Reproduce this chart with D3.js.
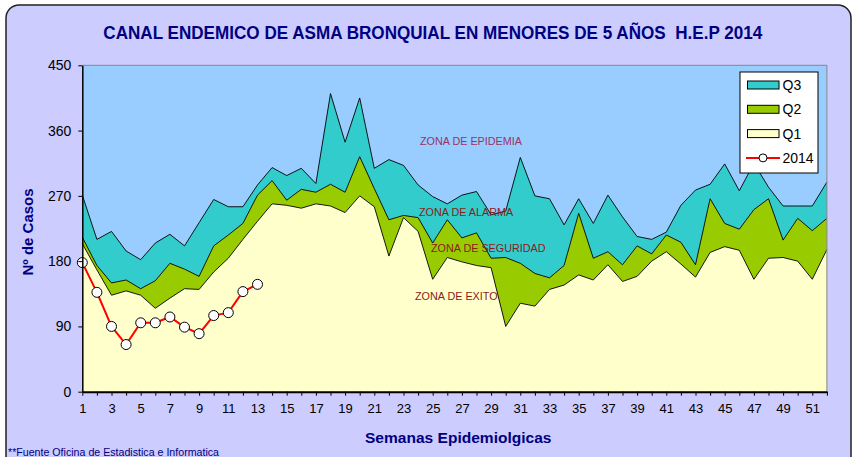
<!DOCTYPE html>
<html>
<head>
<meta charset="utf-8">
<title>Canal endemico</title>
<style>
  body { margin: 0; background: #fff; }
  svg text { font-family: "Liberation Sans", Arial, sans-serif; }
</style>
</head>
<body>
<script src="https://cdnjs.cloudflare.com/ajax/libs/d3/7.8.5/d3.min.js"></script>
<script>
// semanas epidemiologicas 1..52
var semanas = d3.range(1, 53);

// limites de los cuartiles (casos)
var q1 = [204,168,133,139,133,115,129,142,141,165,
          184,210,235,259,257,253,259,256,247,270,
          255,187,240,221,155,185,179,174,171,90,
          122,118,141,147,161,154,175,152,159,180,
          193,176,158,192,200,195,155,184,185,180,
          155,196];
var q2 = [213,174,150,154,142,153,177,169,159,201,
          216,232,271,291,264,279,275,286,275,324,
          280,237,243,240,205,237,212,219,184,185,
          177,163,157,174,246,184,193,175,201,190,
          216,206,175,266,232,224,251,266,209,239,
          222,239];
var q3 = [271,210,221,194,182,205,217,201,233,265,
          255,255,285,309,298,308,287,411,344,405,
          308,320,312,285,269,259,271,276,244,249,
          323,270,266,230,266,232,271,241,214,210,
          220,257,278,286,314,277,315,282,256,256,
          256,289];

// casos 2014
var casos2014 = [178,137,90,65,95,95,103,89,80,105,109,138,148];

var yTicks = [0, 90, 180, 270, 360, 450];

var W = 853, H = 457;
var navy = "#000080";

var svg = d3.select("body").append("svg")
    .attr("width", W)
    .attr("height", H);

// marco exterior
svg.append("rect")
    .attr("x", 6).attr("y", 5)
    .attr("width", 845).attr("height", 470)
    .attr("rx", 13).attr("ry", 13)
    .attr("fill", "#CCCCFF")
    .attr("stroke", "#222")
    .attr("stroke-width", 1.5);

var x = d3.scalePoint()
    .domain(semanas)
    .range([82.3, 826.9]);

var y = d3.scaleLinear()
    .domain([0, 450])
    .range([391.7, 65.3]);

// fondo del area de trazado (zona de epidemia)
svg.append("rect")
    .attr("x", x(1)).attr("y", y(450))
    .attr("width", x(52) - x(1))
    .attr("height", y(0) - y(450))
    .attr("fill", "#99CCFF");

function band(lo, hi) {
    return d3.area()
        .x(function(d, i) { return x(semanas[i]); })
        .y0(function(d, i) { return lo ? y(lo[i]) : y(0); })
        .y1(function(d, i) { return y(hi[i]); });
}
var line = d3.line()
    .x(function(d, i) { return x(semanas[i]); })
    .y(function(d) { return y(d); });

svg.append("path").datum(q3).attr("d", band(q2, q3)).attr("fill", "#33CCCC");
svg.append("path").datum(q2).attr("d", band(q1, q2)).attr("fill", "#99CC00");
svg.append("path").datum(q1).attr("d", band(null, q1)).attr("fill", "#FFFFCC");

[q3, q2, q1].forEach(function(s) {
    svg.append("path").datum(s)
        .attr("d", line)
        .attr("fill", "none")
        .attr("stroke", "#000")
        .attr("stroke-width", 0.9)
        .attr("stroke-linejoin", "round");
});

// borde gris superior y derecho
svg.append("path")
    .attr("d", "M" + x(1) + "," + y(450) + "H" + x(52) + "V" + y(0))
    .attr("fill", "none")
    .attr("stroke", "#888")
    .attr("stroke-width", 1);

// etiquetas de zonas
var zonas = [
    { t: "ZONA DE EPIDEMIA", x: 420, y: 144.5, c: "#993366" },
    { t: "ZONA DE ALARMA", x: 419, y: 216, c: "#8B1A1A" },
    { t: "ZONA DE SEGURIDAD", x: 431, y: 252, c: "#8B1A1A" },
    { t: "ZONA DE EXITO", x: 415, y: 300, c: "#8B1A1A" }
];
svg.selectAll("text.zona").data(zonas).enter().append("text")
    .attr("class", "zona")
    .attr("x", function(d) { return d.x; })
    .attr("y", function(d) { return d.y; })
    .attr("font-size", "10.8px")
    .attr("fill", function(d) { return d.c; })
    .text(function(d) { return d.t; });

// serie 2014
svg.append("path").datum(casos2014)
    .attr("d", line)
    .attr("fill", "none")
    .attr("stroke", "#FF0000")
    .attr("stroke-width", 2);
svg.selectAll("circle.c2014").data(casos2014).enter().append("circle")
    .attr("class", "c2014")
    .attr("cx", function(d, i) { return x(semanas[i]); })
    .attr("cy", function(d) { return y(d); })
    .attr("r", 5)
    .attr("fill", "#fff")
    .attr("stroke", "#000")
    .attr("stroke-width", 1);

// ejes
var yAxis = svg.append("g")
    .attr("transform", "translate(" + x(1) + ",0)")
    .call(d3.axisLeft(y).tickValues(yTicks).tickSize(4).tickSizeOuter(0).tickPadding(7));
yAxis.selectAll("text").attr("font-size", "14px").attr("fill", "#000")
    .style("font-family", "'Liberation Sans', Arial, sans-serif");
yAxis.select(".domain").attr("stroke-width", 1.5);

var xAxis = svg.append("g")
    .attr("transform", "translate(0," + y(0) + ")")
    .call(d3.axisBottom(x).tickSize(4).tickSizeOuter(0).tickPadding(8.5)
        .tickFormat(function(d) { return d % 2 === 1 ? d : ""; }));
xAxis.selectAll("text").attr("font-size", "13px").attr("fill", "#000")
    .style("font-family", "'Liberation Sans', Arial, sans-serif");
xAxis.select(".domain").attr("stroke-width", 2);

// titulos
svg.append("text")
    .attr("x", 103.3).attr("y", 38.5)
    .attr("font-size", "17.5px")
    .attr("font-weight", "bold")
    .attr("fill", navy)
    .attr("textLength", 659)
    .attr("lengthAdjust", "spacingAndGlyphs")
    .style("white-space", "pre")
    .text("CANAL ENDEMICO DE ASMA BRONQUIAL EN MENORES DE 5 AÑOS  H.E.P 2014");

svg.append("text")
    .attr("transform", "translate(32.5,232) rotate(-90)")
    .attr("text-anchor", "middle")
    .attr("font-size", "15px")
    .attr("font-weight", "bold")
    .attr("fill", navy)
    .text("Nº de Casos");

svg.append("text")
    .attr("x", 365).attr("y", 442.7)
    .attr("font-size", "15.3px")
    .attr("font-weight", "bold")
    .attr("fill", navy)
    .attr("textLength", 186.5)
    .attr("lengthAdjust", "spacingAndGlyphs")
    .text("Semanas Epidemiolgicas");

svg.append("text")
    .attr("x", 8).attr("y", 455.5)
    .attr("font-size", "11.5px")
    .attr("fill", navy)
    .attr("textLength", 211)
    .attr("lengthAdjust", "spacingAndGlyphs")
    .text("**Fuente Oficina de Estadistica e Informatica");

// leyenda
var leyenda = [
    { n: "Q3", c: "#33CCCC" },
    { n: "Q2", c: "#99CC00" },
    { n: "Q1", c: "#FFFFCC" },
    { n: "2014", c: null }
];
var lg = svg.append("g").attr("transform", "translate(740,72)");
lg.append("rect")
    .attr("width", 78).attr("height", 101)
    .attr("fill", "#fff").attr("stroke", "#000").attr("stroke-width", 1);
leyenda.forEach(function(d, i) {
    var cy = 13 + i * 24.3;
    if (d.c) {
        lg.append("rect")
            .attr("x", 7.5).attr("y", cy - 4)
            .attr("width", 31.5).attr("height", 8)
            .attr("fill", d.c).attr("stroke", "#000").attr("stroke-width", 1);
    } else {
        lg.append("line")
            .attr("x1", 6).attr("x2", 40).attr("y1", cy).attr("y2", cy)
            .attr("stroke", "#FF0000").attr("stroke-width", 2);
        lg.append("circle")
            .attr("cx", 23).attr("cy", cy).attr("r", 4)
            .attr("fill", "#fff").attr("stroke", "#000").attr("stroke-width", 1);
    }
    lg.append("text")
        .attr("x", 42.5).attr("y", cy + 5)
        .attr("font-size", "14px")
        .attr("fill", "#000")
        .text(d.n);
});
</script>
</body>
</html>
